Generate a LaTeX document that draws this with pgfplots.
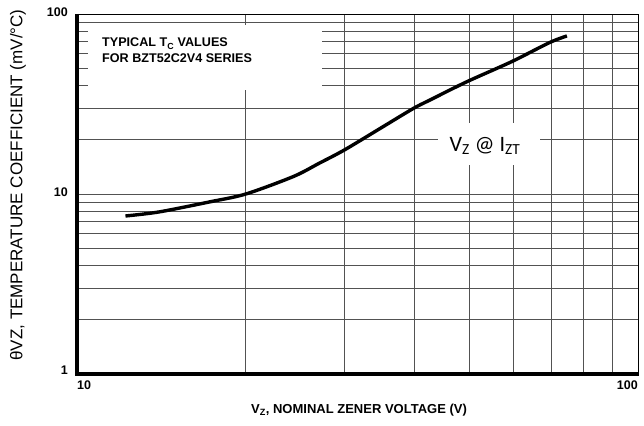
\documentclass[border=0pt]{standalone}
\usepackage{pgfplots}
\pgfplotsset{compat=1.18}
\usepackage{fontspec}
\setmainfont{Liberation Sans}
\newfontfamily\calib{Carlito}
\begin{document}
\begin{tikzpicture}[x=1pt,y=1pt]
\path[use as bounding box] (-77,-51) rectangle (567,374);
\begin{axis}[
  at={(0,0)}, anchor=south west,
  scale only axis, width=561pt, height=360pt,
  xmode=log, ymode=log,
  xmin=10, xmax=100, ymin=1, ymax=100,
  xtick={10,100}, ytick={1,10,100},
  minor xtick={20,30,40,50,60,70,80,90},
  minor ytick={2,3,4,5,6,7,8,9,20,30,40,50,60,70,80,90},
  xticklabels={}, yticklabels={},
  major tick length=0pt, minor tick length=0pt,
  grid=both,
  major grid style={black!68, line width=0.9pt},
  minor grid style={black!68, line width=0.9pt},
  axis line style={black, line width=0.7pt},
]
% typical temperature coefficient
\addplot[black, line width=3.4pt, smooth] coordinates {
  (12.2,7.55) (14,7.95) (17.3,9.06) (20,10) (24.3,12.5) (27,14.8)
  (30,17.6) (35,23.5) (39.8,29.9) (42.6,33.3) (49.5,42) (59.5,54.3)
  (69.5,69.3) (74.7,75.5)
};
\end{axis}
% white boxes behind the notes
\fill[white] (11,284) rectangle (245,349);
\fill[white] (361,209) rectangle (463,251);
\node[anchor=base west, inner sep=0pt, font=\bfseries\fontsize{12.6}{14}\selectfont]
  at (25,327) {TYPICAL T\textsubscript{C} VALUES};
\node[anchor=base west, inner sep=0pt, font=\bfseries\fontsize{12.6}{14}\selectfont]
  at (25,311) {FOR BZT52C2V4 SERIES};
\node[font=\calib\fontsize{22}{25}\selectfont] at (408,228)
  {V\textsubscript{Z} @ I\textsubscript{ZT}};
% heavy left and bottom axis lines
\draw[line width=3.4pt] (0,360) -- (0,0) -- (562,0);
% tick labels
\begin{scope}[every node/.style={font=\bfseries\fontsize{12.5}{14}\selectfont, inner sep=0pt}]
\node[anchor=east] at (-9,362) {100};
\node[anchor=east] at (-9,182) {10};
\node[anchor=east] at (-9,4) {1};
\node[anchor=west] at (0,-11) {10};
\node[anchor=east] at (561,-11) {100};
\end{scope}
% axis titles
\node[rotate=90, font=\fontsize{17}{19}\selectfont] at (-59,189)
  {θVZ, TEMPERATURE COEFFICIENT (mV/°C)};
\node[font=\bfseries\fontsize{13}{15}\selectfont] at (282,-36)
  {V\textsubscript{Z}, NOMINAL ZENER VOLTAGE (V)};
\end{tikzpicture}
\end{document}
